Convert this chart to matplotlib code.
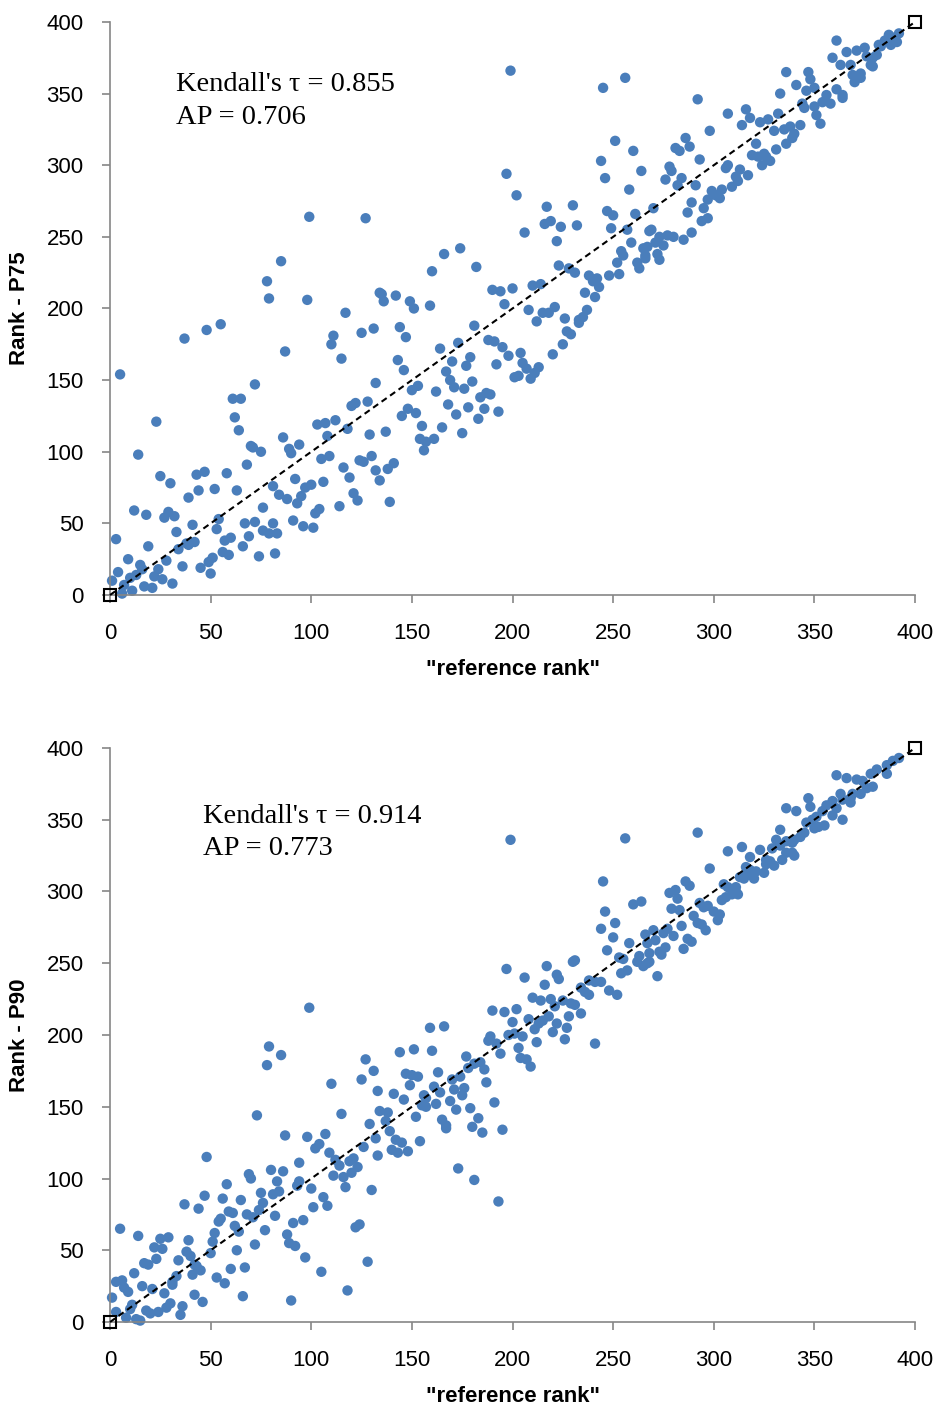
import matplotlib
matplotlib.use("Agg")
import matplotlib.pyplot as plt

# ---- data: (reference rank, rank) pairs ----
p75_x = [5, 37, 48, 55, 117, 131, 111, 110, 125, 115, 87, 72, 132, 23, 14, 61, 65, 62, 64, 86,
         94, 89, 90, 70, 71, 75, 68, 58, 47, 43, 25, 30, 39, 44, 52, 63, 12, 18, 29, 27,
         32, 33, 39, 41, 34, 38, 42, 53, 54, 57, 60, 56, 59, 51, 49, 45, 50, 36, 28, 31,
         19, 3, 9, 15, 16, 13, 10, 4, 1, 7, 11, 6, 17, 21, 22, 26, 24,
         81, 84, 88, 93, 95, 97, 100, 106, 76, 91, 96, 101, 102, 104, 81, 76, 79, 83, 67,
         72, 69, 66, 74, 82, 114, 121, 123, 116, 119, 124, 126, 130, 132, 134, 105, 109, 103, 107, 112,
         108, 118, 120, 122, 128, 129, 92,
         99, 127, 85, 78, 79, 98, 134,
         199, 245, 256, 251, 260, 244, 246, 264, 258, 197, 202, 217, 230, 219, 216, 224, 232, 206, 222, 247,
         250, 249, 261, 257, 259, 268, 254, 255, 252, 262, 263, 265, 266, 253, 248, 238, 242, 240, 243, 236,
         241, 237, 223, 228, 231, 221, 210, 214, 200, 190, 194, 196, 208, 215, 218, 182, 174, 166, 160, 135,
         136, 142, 149, 151, 159,
         361, 292, 366, 359, 363, 371, 375, 368, 369, 373, 370, 373, 378, 379, 376, 381, 382, 385, 387, 389,
         392, 391, 388, 383, 379, 336, 347, 348, 341, 333, 346, 350, 356, 354, 358, 361, 364, 364, 345, 350,
         351, 353, 344, 307, 316, 318, 314, 323, 327, 332, 298, 286, 288, 281, 283, 293, 278, 279, 276, 284,
         282, 291, 270, 287, 289, 295, 297, 299, 301, 304, 303, 307, 306, 311, 313, 312, 309, 317, 319, 321,
         322, 325, 324, 328, 326, 330, 331, 335, 336, 338, 339, 340, 343, 294, 297, 269, 273, 277, 280, 285,
         289, 275, 271, 267, 272, 273, 266,
         226, 212, 227, 229, 225, 220, 233, 235, 233, 144, 147, 181, 188, 191, 195, 198, 204, 192, 205, 207,
         213, 211, 209, 201, 203, 173, 164, 170, 179, 177, 167, 169, 171, 180, 176, 184, 187, 189, 186, 193,
         183, 178, 172, 168, 175, 162, 153, 150, 146, 143, 148, 152, 145, 155, 165, 154, 157, 161, 156, 137,
         138, 141, 139]
p75_y = [154, 179, 185, 189, 197, 186, 181, 175, 183, 165, 170, 147, 148, 121, 98, 137, 137, 124, 115, 110,
         105, 102, 99, 104, 103, 100, 91, 85, 86, 84, 83, 78, 68, 73, 74, 73, 59, 56, 58, 54,
         55, 44, 35, 49, 32, 36, 37, 46, 53, 38, 40, 30, 28, 26, 23, 19, 15, 20, 24, 8,
         34, 39, 25, 21, 18, 14, 12, 16, 10, 7, 3, 1, 6, 5, 13, 11, 18,
         76, 70, 67, 64, 69, 75, 77, 79, 61, 52, 48, 47, 57, 60, 50, 45, 43, 43, 50,
         51, 41, 34, 27, 29, 62, 71, 66, 89, 82, 94, 93, 97, 87, 80, 95, 97, 119, 120, 122,
         111, 116, 132, 134, 135, 112, 81,
         264, 263, 233, 219, 207, 206, 211,
         366, 354, 361, 317, 310, 303, 291, 296, 283, 294, 279, 271, 272, 261, 259, 257, 258, 253, 247, 268,
         265, 256, 266, 255, 246, 254, 240, 237, 232, 232, 228, 242, 237, 224, 223, 223, 221, 219, 215, 211,
         208, 199, 230, 228, 225, 201, 216, 217, 214, 213, 212, 203, 199, 197, 197, 229, 242, 238, 226, 210,
         205, 209, 205, 200, 202,
         387, 346, 379, 375, 370, 380, 382, 370, 363, 364, 358, 361, 370, 369, 376, 377, 384, 387, 391, 389,
         392, 386, 384, 383, 375, 365, 365, 360, 356, 350, 352, 354, 349, 344, 343, 353, 349, 347, 340, 341,
         335, 329, 343, 336, 339, 333, 328, 330, 332, 336, 324, 319, 313, 312, 310, 304, 299, 296, 290, 291,
         286, 286, 270, 267, 274, 270, 276, 282, 279, 283, 277, 300, 298, 292, 297, 289, 285, 293, 307, 315,
         306, 308, 300, 303, 306, 324, 311, 325, 315, 327, 319, 322, 328, 261, 263, 255, 250, 251, 250, 248,
         253, 244, 246, 243, 238, 234, 235,
         193, 191, 184, 182, 175, 168, 192, 194, 190, 187, 180, 188, 178, 177, 173, 167, 169, 161, 162, 158,
         159, 155, 151, 152, 153, 176, 172, 163, 166, 160, 156, 150, 145, 149, 144, 138, 141, 140, 130, 128,
         123, 131, 126, 133, 113, 142, 146, 143, 157, 164, 130, 127, 125, 118, 117, 109, 107, 109, 101, 114,
         88, 92, 65]

p90_x = [99,
         199, 256, 245, 246, 251, 244, 250, 260, 264, 258, 266, 247, 253, 255, 263, 268, 262, 257, 254, 265,
         267, 231, 230, 217, 222, 223, 197, 206, 216, 238, 241, 244, 234, 236, 238, 248, 252, 210, 214, 219,
         225, 229, 231, 221, 228, 234, 218, 215, 213, 211, 222, 227, 220, 208, 202, 196, 190, 200, 198, 201,
         189, 205, 159, 166,
         361, 366, 371, 374, 378, 381, 386, 389, 392, 386, 379, 376, 373, 369, 368, 363, 368, 364, 359, 356,
         361, 359, 364, 354, 351, 347, 348, 336, 341, 333, 346, 349, 352, 355, 350, 345, 343, 340, 339, 336,
         331, 329, 333, 339, 340, 336, 334, 323, 318, 326, 328, 330, 326, 307, 314, 292, 298, 316, 318, 321,
         320, 316, 313, 315, 325, 305, 307, 311, 311, 312, 309, 306, 304, 286, 288, 278, 281, 282, 279, 283,
         293, 295, 297, 290, 300, 303, 302, 292, 294, 296, 284, 277, 270, 280, 275, 271, 267, 287, 289, 285,
         276, 273, 274, 268, 272,
         79, 85, 78, 127, 131, 125, 110, 133, 115, 73, 134, 129, 87, 98, 104, 102, 107, 109, 112, 114,
         111, 116, 119, 121, 123, 120, 117, 126, 132, 133, 130, 94, 86, 80, 69, 70, 83, 84, 81, 75,
         76, 94, 93, 100, 106, 108, 101, 96, 91, 82, 77, 88, 89, 92, 97, 105, 128, 118, 122, 124,
         90, 72, 67, 66, 63, 60, 57, 53, 46, 42, 45, 41, 43, 50, 51, 52, 54, 55, 59, 61,
         62, 64, 68, 71, 74, 65, 58, 56, 47, 44, 37, 48, 39, 38, 40, 34, 42, 29, 25, 26,
         22, 23, 17, 19, 14, 5, 12, 3, 6, 7, 9, 16, 21, 27, 31, 33, 1, 11, 10, 3,
         8, 13, 15, 18, 20, 24, 28, 30, 35, 36, 31,
         144, 151, 160, 147, 150, 153, 163, 149, 141, 146, 161, 164, 156, 157, 155, 157, 162, 152, 138, 137,
         139, 142, 145, 140, 143, 148, 154, 169, 172, 165, 167, 167, 179, 183, 180, 185, 195, 191, 187, 186,
         184, 181, 177, 178, 174, 170, 171, 176, 175, 188, 192, 194, 203, 204, 207, 209, 212, 226, 241, 173,
         181, 193]
p90_y = [219,
         336, 337, 307, 286, 278, 274, 268, 291, 293, 264, 270, 259, 254, 253, 255, 257, 251, 245, 243, 248,
         250, 252, 251, 248, 242, 239, 246, 240, 235, 238, 237, 237, 233, 230, 228, 231, 228, 226, 224, 225,
         224, 222, 221, 220, 213, 215, 213, 210, 208, 204, 208, 205, 202, 211, 218, 216, 217, 209, 200, 201,
         199, 199, 205, 206,
         381, 379, 378, 377, 382, 385, 388, 391, 393, 382, 373, 372, 368, 368, 365, 368, 362, 364, 363, 360,
         358, 353, 350, 356, 352, 365, 359, 358, 356, 343, 348, 350, 345, 346, 344, 341, 338, 336, 334, 335,
         336, 330, 332, 327, 325, 327, 322, 329, 324, 322, 321, 318, 319, 328, 331, 341, 316, 317, 315, 314,
         309, 312, 310, 309, 313, 305, 303, 303, 300, 298, 298, 296, 294, 307, 304, 299, 301, 295, 288, 287,
         292, 289, 290, 283, 286, 284, 280, 278, 277, 273, 276, 274, 273, 269, 271, 266, 264, 267, 265, 260,
         261, 258, 256, 251, 241,
         192, 186, 179, 183, 175, 169, 166, 161, 145, 144, 147, 138, 130, 129, 124, 121, 131, 118, 113, 109,
         102, 101, 112, 114, 108, 104, 94, 122, 128, 116, 92, 111, 105, 106, 103, 100, 98, 91, 89, 90,
         83, 98, 95, 93, 87, 81, 80, 71, 69, 74, 64, 61, 55, 53, 45, 35, 42, 22, 66, 68,
         15, 54, 38, 18, 50, 37, 27, 31, 14, 19, 36, 33, 39, 48, 56, 62, 70, 72, 77, 76,
         67, 63, 75, 73, 78, 85, 96, 86, 88, 79, 82, 115, 57, 49, 46, 43, 40, 59, 58, 51,
         52, 44, 41, 40, 60, 65, 34, 28, 29, 24, 21, 25, 23, 20, 28, 32, 17, 12, 9, 7,
         3, 2, 1, 8, 6, 7, 10, 13, 5, 11, 26,
         188, 190, 189, 173, 172, 171, 174, 165, 159, 155, 164, 160, 158, 156, 151, 150, 152, 143, 146, 140,
         133, 127, 125, 120, 118, 119, 126, 154, 148, 141, 137, 135, 149, 142, 136, 132, 134, 153, 167, 176,
         181, 180, 185, 177, 171, 169, 162, 163, 158, 196, 194, 187, 191, 184, 183, 178, 195, 197, 194, 107,
         99, 84]

panels = [
    (p75_x, p75_y, "Rank - P75", "Kendall's \u03c4 = 0.855\nAP = 0.706", (33, 345)),
    (p90_x, p90_y, "Rank - P90", "Kendall's \u03c4 = 0.914\nAP = 0.773", (46, 341)),
]

plt.rcParams['font.family'] = ['Liberation Sans', 'DejaVu Sans']

fig = plt.figure(figsize=(9.38, 14.07), dpi=100)
boxes = [[0.1173, 0.5771, 0.8582, 0.4073], [0.1173, 0.0604, 0.8582, 0.408]]

for box, (xs, ys, ylab, note, pos) in zip(boxes, panels):
    ax = fig.add_axes(box)
    ax.scatter(xs, ys, s=56, color='#4a7ebb', edgecolors='none', zorder=2, clip_on=False)
    ax.plot([0, 400], [0, 400], color='black', lw=1.5, dashes=(3, 2), marker='s',
            mfc='none', mec='black', ms=8.5, mew=1.5, zorder=3, clip_on=False)
    ax.text(pos[0], pos[1], note, fontsize=20.5, family=['Liberation Serif', 'DejaVu Serif'],
            va='center', linespacing=1.4)
    ax.set_xlim(0, 400)
    ax.set_ylim(0, 400)
    ax.set_xticks(range(0, 401, 50))
    ax.set_yticks(range(0, 401, 50))
    for s in ['top', 'right']:
        ax.spines[s].set_visible(False)
    for s in ['left', 'bottom']:
        ax.spines[s].set_color('#868686')
        ax.spines[s].set_linewidth(1.2)
    ax.tick_params(axis='both', direction='out', length=6, width=1.2, color='#868686',
                   labelsize=16, labelcolor='black')
    ax.tick_params(axis='y', pad=13)
    ax.tick_params(axis='x', pad=14)
    ax.set_xlabel('"reference rank"', fontsize=16, fontweight='bold')
    ax.set_ylabel(ylab, fontsize=16, fontweight='bold')
    ax.xaxis.set_label_coords(0.5, -0.112)
    ax.yaxis.set_label_coords(-0.1, 0.5)

fig.savefig('out.png', dpi=100, facecolor='white')
